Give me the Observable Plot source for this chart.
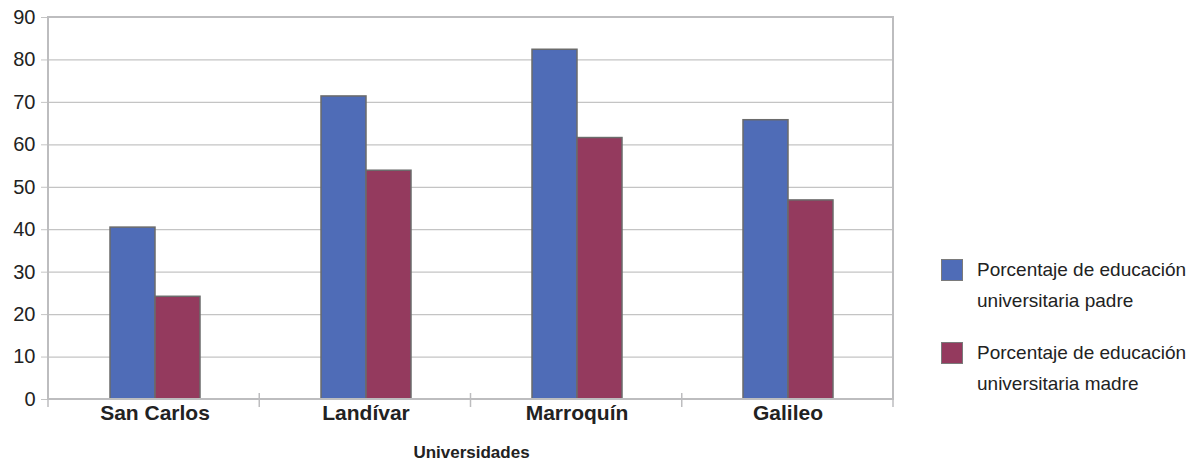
<!DOCTYPE html>
<html>
<head>
<meta charset="utf-8">
<script src="https://cdn.jsdelivr.net/npm/d3@7"></script>
<script src="https://cdn.jsdelivr.net/npm/@observablehq/plot@0.6"></script>
<style>
  body { margin: 0; background: #fff; font-family: "Liberation Sans", Arial, sans-serif; }
  #wrap { position: relative; width: 1193px; height: 466px; }
  #legend { position: absolute; left: 941px; top: 254px; font-size: 19px; color: #222; }
  .item { display: flex; align-items: flex-start; margin-bottom: 21px; }
  .sw { width: 20px; height: 20px; border: 1px solid #7a7a7a; margin-top: 5px; margin-right: 14px; flex: none; }
  .lbl { line-height: 31px; }
  g[aria-label="fx-axis label"] { font-size: 17px; }
</style>
</head>
<body>
<div id="wrap"></div>
<script>
// Universities and the share of students whose father / mother has a university education (%)
const universidades = ["San Carlos", "Landívar", "Marroquín", "Galileo"];
const serieNombres = ["Porcentaje de educación universitaria padre", "Porcentaje de educación universitaria madre"];
const leyendaLineas = [["Porcentaje de educación", "universitaria padre"], ["Porcentaje de educación", "universitaria madre"]];
const padre = [40.5, 71.4, 82.4, 65.8];
const madre = [24.2, 53.9, 61.6, 46.9];
const yTicks = [0, 10, 20, 30, 40, 50, 60, 70, 80, 90];
const colores = ["#4f6cb7", "#943a5e"];

const filas = universidades.flatMap((u, i) => [
  {u, s: serieNombres[0], v: padre[i]},
  {u, s: serieNombres[1], v: madre[i]}
]);

const chart = Plot.plot({
  width: 1193,
  height: 466,
  marginLeft: 48,
  marginRight: 300,
  marginTop: 17,
  marginBottom: 67,
  style: {fontFamily: "'Liberation Sans', Arial, sans-serif", color: "#222", background: "#fff"},
  fx: {domain: universidades, padding: 0},
  x: {domain: serieNombres, axis: null, paddingInner: 0, paddingOuter: 1.32},
  y: {domain: [0, 90]},
  color: {domain: serieNombres, range: colores},
  marks: [
    Plot.gridY(yTicks, {stroke: "#c4c4c4", strokeOpacity: 1, strokeWidth: 1.2}),
    Plot.axisY(yTicks, {tickSize: 8, tickPadding: 6, fontSize: 20, stroke: "#c4c4c4", label: null}),
    Plot.barY(filas, {fx: "u", x: "s", y: "v", fill: "s", stroke: "#6b6b6b", strokeWidth: 1.5}),
    Plot.axisFx({
      anchor: "bottom", fontSize: 21, fontWeight: "bold", tickSize: 0, tickPadding: 6,
      label: "Universidades", labelAnchor: "center", labelOffset: 58
    })
  ]
});

// Plot frame and category boundary ticks along the baseline
const fx = chart.scale("fx");
const y = chart.scale("y");
const [r0, r1] = fx.range;
const step = (r1 - r0) / universidades.length;
const y0 = y.apply(0), yTop = y.apply(90);
const g = d3.select(chart).append("g").attr("fill", "none").attr("stroke", "#bdbdbf");
g.selectAll("line")
  .data(d3.range(universidades.length + 1))
  .join("line")
  .attr("x1", i => r0 + i * step).attr("x2", i => r0 + i * step)
  .attr("y1", y0 - 6).attr("y2", y0 + 8)
  .attr("stroke-width", 1.5);
g.append("rect")
  .attr("x", r0).attr("y", yTop)
  .attr("width", r1 - r0).attr("height", y0 - yTop)
  .attr("stroke-width", 2);

const wrap = document.getElementById("wrap");
wrap.append(chart);

// Legend
const legend = document.createElement("div");
legend.id = "legend";
serieNombres.forEach((s, i) => {
  const item = document.createElement("div");
  item.className = "item";
  const sw = document.createElement("div");
  sw.className = "sw";
  sw.style.background = colores[i];
  const lbl = document.createElement("div");
  lbl.className = "lbl";
  lbl.innerHTML = leyendaLineas[i].join("<br>");
  item.append(sw, lbl);
  legend.append(item);
});
wrap.append(legend);
</script>
</body>
</html>
